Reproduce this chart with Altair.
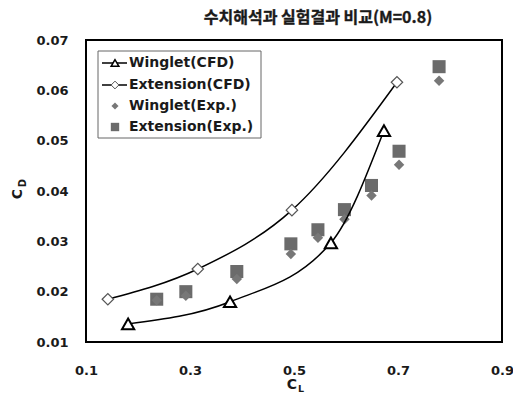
import altair as alt
import pandas as pd

# CFD results
wing_cfd_cl = [0.181, 0.377, 0.571, 0.673]
wing_cfd_cd = [0.0136, 0.0180, 0.0297, 0.0520]
ext_cfd_cl = [0.142, 0.315, 0.496, 0.698]
ext_cfd_cd = [0.0185, 0.0245, 0.0362, 0.0616]
# Experimental results
wing_exp_cl = [0.236, 0.292, 0.390, 0.494, 0.546, 0.597, 0.649, 0.702, 0.779]
wing_exp_cd = [0.0183, 0.0192, 0.0225, 0.0275, 0.0307, 0.0344, 0.0391, 0.0452, 0.0619]
ext_exp_cl = [0.236, 0.292, 0.390, 0.494, 0.546, 0.597, 0.649, 0.702, 0.779]
ext_exp_cd = [0.0185, 0.0200, 0.0240, 0.0295, 0.0323, 0.0363, 0.0411, 0.0479, 0.0647]

x_ticks = [0.1, 0.3, 0.5, 0.7, 0.9]
y_ticks = [0.01, 0.02, 0.03, 0.04, 0.05, 0.06, 0.07]
legend_labels = ["Winglet(CFD)", "Extension(CFD)", "Winglet(Exp.)", "Extension(Exp.)"]
title_text = "수치해석과 실험결과 비교(M=0.8)"

FONT = "DejaVu Sans"
TXT = "#1a1a1a"

wc = pd.DataFrame({"cl": wing_cfd_cl, "cd": wing_cfd_cd})
ec = pd.DataFrame({"cl": ext_cfd_cl, "cd": ext_cfd_cd})
we = pd.DataFrame({"cl": wing_exp_cl, "cd": wing_exp_cd})
ee = pd.DataFrame({"cl": ext_exp_cl, "cd": ext_exp_cd})

xs = alt.Scale(domain=[0.1, 0.9], nice=False, zero=False)
ys = alt.Scale(domain=[0.01, 0.07], nice=False, zero=False)
xax = alt.Axis(values=x_ticks, format=".1f", title=None, grid=False, ticks=False, domain=False,
               labelFont=FONT, labelFontWeight="bold", labelFontSize=13, labelColor=TXT,
               labelPadding=22, labelFlush=False)
yax = alt.Axis(values=y_ticks, format=".2f", title=None, grid=False, ticks=False, domain=False,
               labelFont=FONT, labelFontWeight="bold", labelFontSize=13, labelColor=TXT,
               labelPadding=18, labelFlush=False)

X = alt.X("cl:Q", scale=xs, axis=xax)
Y = alt.Y("cd:Q", scale=ys, axis=yax)

ee_l = alt.Chart(ee).mark_point(shape="square", filled=True, color="#6b6b6b", size=170, opacity=1).encode(x=X, y=Y)
we_l = alt.Chart(we).mark_point(shape="diamond", filled=True, color="#777777", size=110, opacity=1).encode(x=X, y=Y)

ec_line = alt.Chart(ec).mark_line(color="black", strokeWidth=1.5, interpolate="monotone").encode(x=X, y=Y)
ec_pt = alt.Chart(ec).mark_point(shape="diamond", filled=True, fill="white", stroke="#555555",
                                 strokeWidth=1.2, size=130, opacity=1).encode(x=X, y=Y)
wc_line = alt.Chart(wc).mark_line(color="black", strokeWidth=1.5, interpolate="monotone").encode(x=X, y=Y)
wc_pt = alt.Chart(wc).mark_point(shape="triangle-up", filled=True, fill="white", stroke="black",
                                 strokeWidth=2, size=150, opacity=1).encode(x=X, y=Y)

one = alt.Data(values=[{"a": 1}])

def deco_text(txt, x, y, size=13, angle=0, align="left", font=FONT, stroke=None):
    kw = dict(text=txt, font=font, fontWeight="bold", fontSize=size, color=TXT,
              align=align, baseline="middle", angle=angle)
    if stroke is not None:
        kw["stroke"] = TXT
        kw["strokeWidth"] = stroke
    return alt.Chart(one).mark_text(**kw).encode(x=alt.value(x), y=alt.value(y))

# legend box
leg_box = alt.Chart(one).mark_rect(fill="white", stroke="#666666", strokeWidth=1).encode(
    x=alt.value(12), x2=alt.value(175), y=alt.value(11), y2=alt.value(98))

rows = [23, 45, 66, 87]
leg = [leg_box]
for i, lab in enumerate(legend_labels):
    yy = rows[i]
    if i < 2:
        leg.append(alt.Chart(one).mark_rule(color="black", strokeWidth=1.5).encode(
            x=alt.value(16), x2=alt.value(41), y=alt.value(yy)))
    if i == 0:
        leg.append(alt.Chart(one).mark_point(shape="triangle-up", filled=True, fill="white", stroke="black",
                                             strokeWidth=1.5, size=60, opacity=1).encode(
            x=alt.value(29), y=alt.value(yy)))
    elif i == 1:
        leg.append(alt.Chart(one).mark_point(shape="diamond", filled=True, fill="white", stroke="#555555",
                                             strokeWidth=1, size=60, opacity=1).encode(
            x=alt.value(29), y=alt.value(yy)))
    elif i == 2:
        leg.append(alt.Chart(one).mark_point(shape="diamond", filled=True, color="#777777",
                                             size=50, opacity=1).encode(x=alt.value(29), y=alt.value(yy)))
    else:
        leg.append(alt.Chart(one).mark_point(shape="square", filled=True, color="#6b6b6b",
                                             size=70, opacity=1).encode(x=alt.value(29), y=alt.value(yy)))
    leg.append(deco_text(lab, 43, yy, size=14))

# title and axis titles with subscripts
titles = [
    deco_text(title_text, 232, -22, size=16, align="center", font="Noto Sans CJK KR", stroke=0.35),
    deco_text("C", 206, 345, size=14, align="center"),
    deco_text("L", 215, 349, size=9.5, align="center"),
    deco_text("C", -68, 154, size=14, angle=270, align="center"),
    deco_text("D", -63, 143, size=10, angle=270, align="center"),
]

chart = alt.layer(ee_l, we_l, ec_line, ec_pt, wc_line, wc_pt, *leg, *titles).properties(
    width=416, height=302,
    autosize=alt.AutoSizeParams(type="none"),
    padding={"left": 78, "top": 32, "right": 11, "bottom": 52},
).configure_view(stroke="black", strokeWidth=2)

chart.save("out.html", embed_options={"renderer": "svg", "actions": False})
